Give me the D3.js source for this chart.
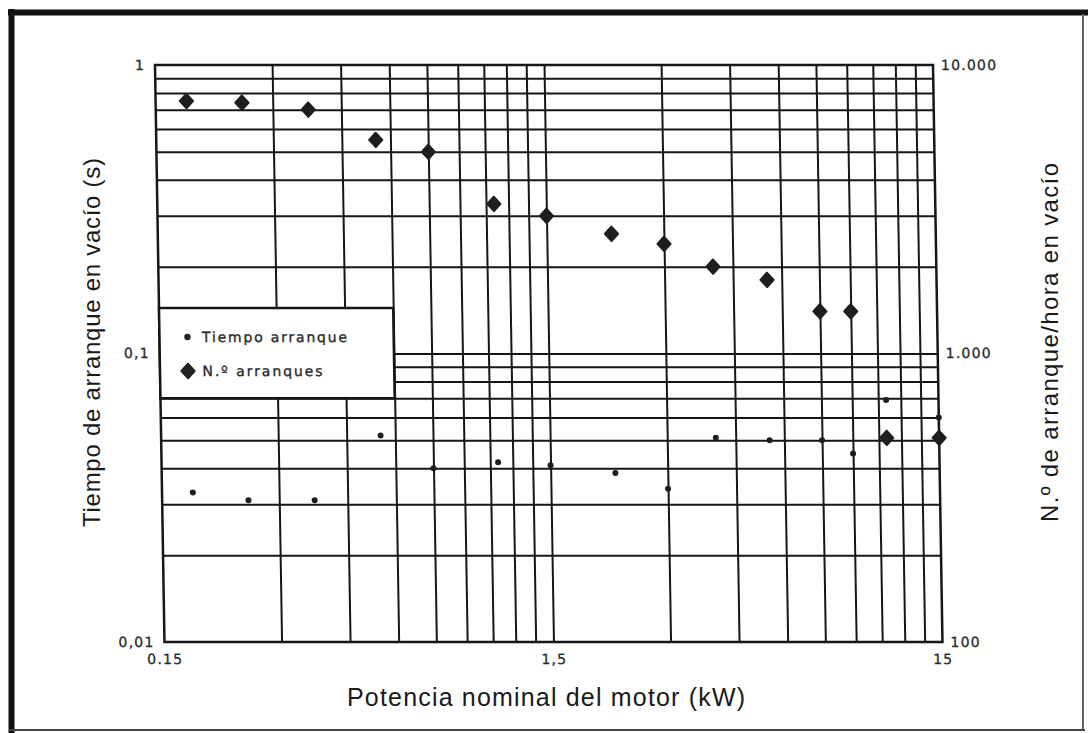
<!DOCTYPE html>
<html><head><meta charset="utf-8">
<script src="https://cdn.jsdelivr.net/npm/d3@7"></script>
<style>body{margin:0;background:#fff} svg{display:block}</style>
</head><body>
<svg id="c" width="1088" height="733"></svg>
<script>
// ---- data ----
const power = [0.18, 0.25, 0.37, 0.55, 0.75, 1.1, 1.5, 2.2, 3, 4, 5.5, 7.5, 9, 11, 15];       // kW
const startsPerHour = [7500, 7400, 7000, 5500, 5000, 3300, 3000, 2600, 2400, 2000, 1800, 1400, 1400, 510, 510];
const startTime = [0.033, 0.031, 0.031, 0.052, 0.040, 0.042, 0.041, 0.0385, 0.034, 0.051, 0.050, 0.050, 0.045, 0.069, 0.060];

const gridX = [0.3, 0.45, 0.6, 0.75, 0.9, 1.05, 1.2, 1.35, 1.5, 3, 4.5, 6, 7.5, 9, 10.5, 12, 13.5];
const gridY = [0.02, 0.03, 0.04, 0.05, 0.06, 0.07, 0.08, 0.09, 0.1, 0.2, 0.3, 0.4, 0.5, 0.6, 0.7, 0.8, 0.9];

const xTickValues = [0.15, 1.5, 15];
const xTickLabels = ["0.15", "1,5", "15"];
const leftTickValues = [0.01, 0.1, 1];
const leftTickLabels = ["0,01", "0,1", "1"];
const rightTickValues = [100, 1000, 10000];
const rightTickLabels = ["100", "1.000", "10.000"];

const legendItems = ["Tiempo arranque", "N.º arranques"];

// ---- layout ----
const svg = d3.select("#c");
const L = 155, T = 65, W = 778, H = 577;
const ink = "#161616";

const x = d3.scaleLog().domain([0.15, 15]).range([0, W]);
const yL = d3.scaleLog().domain([0.01, 1]).range([H, 0]);
const yR = d3.scaleLog().domain([100, 10000]).range([H, 0]);

// outer frame
svg.append("line").attr("x1", 8).attr("x2", 1088).attr("y1", 12.5).attr("y2", 12.5)
  .attr("stroke", "#111").attr("stroke-width", 6);
svg.append("line").attr("x1", 11.5).attr("x2", 11.5).attr("y1", 9).attr("y2", 733)
  .attr("stroke", "#111").attr("stroke-width", 6);
svg.append("line").attr("x1", 1083).attr("x2", 1083).attr("y1", 14).attr("y2", 731)
  .attr("stroke", "#666").attr("stroke-width", 2);
svg.append("line").attr("x1", 9).attr("x2", 1085).attr("y1", 730).attr("y2", 730)
  .attr("stroke", "#444").attr("stroke-width", 2);

// plot group (scan is slightly sheared)
const g = svg.append("g").attr("transform", `translate(${L},${T}) skewX(0.94)`);

// vertical grid
const gx = g.append("g").call(d3.axisBottom(x).tickValues(gridX).tickSize(H).tickFormat(""));
gx.select(".domain").remove();
gx.selectAll("line").attr("stroke", ink).attr("stroke-width", 2);

// horizontal grid
const gy = g.append("g").call(d3.axisRight(yL).tickValues(gridY).tickSize(W).tickFormat(""));
gy.select(".domain").remove();
gy.selectAll("line").attr("stroke", ink).attr("stroke-width", 2);

// plot border
g.append("rect").attr("x", 0).attr("y", 0).attr("width", W).attr("height", H)
  .attr("fill", "none").attr("stroke", ink).attr("stroke-width", 2.5);

// tick labels
function styleTicks(sel) {
  sel.select(".domain").remove();
  sel.selectAll("text").attr("font-family", "DejaVu Sans, sans-serif").attr("font-size", 14)
    .attr("letter-spacing", "1.2px").attr("fill", "#2a2a2a")
    .attr("stroke", "#2a2a2a").attr("stroke-width", 0.3);
}
g.append("g").attr("transform", `translate(0,${H})`)
  .call(d3.axisBottom(x).tickValues(xTickValues).tickSize(0).tickPadding(12)
    .tickFormat((d, i) => xTickLabels[i])).call(styleTicks);
g.append("g")
  .call(d3.axisLeft(yL).tickValues(leftTickValues).tickSize(0).tickPadding(10)
    .tickFormat((d, i) => leftTickLabels[i])).call(styleTicks);
g.append("g").attr("transform", `translate(${W},0)`)
  .call(d3.axisRight(yR).tickValues(rightTickValues).tickSize(0).tickPadding(8)
    .tickFormat((d, i) => rightTickLabels[i])).call(styleTicks);

// legend box
const legTop = 243;
const leg = g.append("g");
leg.append("rect").attr("x", 0).attr("y", legTop).attr("width", x(0.6)).attr("height", yL(0.07) - legTop)
  .attr("fill", "#fff").attr("stroke", ink).attr("stroke-width", 2.5);

const diamond = "M0,-7.2L6.6,0L0,7.2L-6.6,0Z";

leg.append("circle").attr("cx", 28).attr("cy", 272).attr("r", 3.2).attr("fill", "#222");
leg.append("path").attr("d", diamond).attr("transform", "translate(28,306)")
  .attr("fill", "#222").attr("stroke", "#222").attr("stroke-width", 2).attr("stroke-linejoin", "round");
leg.selectAll("text.leg").data(legendItems).join("text").attr("class", "leg")
  .attr("x", 42.5).attr("y", (d, i) => i === 0 ? 277.5 : 311.5)
  .attr("font-family", "DejaVu Sans, sans-serif").attr("font-size", 14).attr("fill", "#2a2a2a")
  .attr("stroke", "#2a2a2a").attr("stroke-width", 0.35)
  .attr("textLength", (d, i) => i === 0 ? 145 : 120).attr("lengthAdjust", "spacing")
  .text(d => d);

// data: number of starts (diamonds, right axis)
g.append("g").selectAll("path").data(power).join("path")
  .attr("d", diamond)
  .attr("transform", (d, i) => `translate(${x(d)},${yR(startsPerHour[i])})`)
  .attr("fill", "#1e1e1e").attr("stroke", "#1e1e1e").attr("stroke-width", 2).attr("stroke-linejoin", "round");

// data: starting time (small dots, left axis)
g.append("g").selectAll("circle").data(power).join("circle")
  .attr("cx", d => x(d)).attr("cy", (d, i) => yL(startTime[i])).attr("r", 3)
  .attr("fill", "#1e1e1e");

// axis titles
const titleFont = "Liberation Sans, Arial, sans-serif";
svg.append("text").attr("transform", "translate(100,342.5) rotate(-90)")
  .attr("text-anchor", "middle").attr("font-family", titleFont).attr("font-size", 24)
  .attr("fill", "#1a1a1a").attr("textLength", 369).attr("lengthAdjust", "spacing")
  .text("Tiempo de arranque en vacío (s)");
svg.append("text").attr("transform", "translate(1058,342.5) rotate(-90)")
  .attr("text-anchor", "middle").attr("font-family", titleFont).attr("font-size", 24)
  .attr("fill", "#1a1a1a").attr("textLength", 359).attr("lengthAdjust", "spacing")
  .text("N.º de arranque/hora en vacío");
svg.append("text").attr("x", 546).attr("y", 706)
  .attr("text-anchor", "middle").attr("font-family", titleFont).attr("font-size", 25)
  .attr("fill", "#1a1a1a").attr("textLength", 398).attr("lengthAdjust", "spacing")
  .text("Potencia nominal del motor (kW)");
</script>
</body></html>
